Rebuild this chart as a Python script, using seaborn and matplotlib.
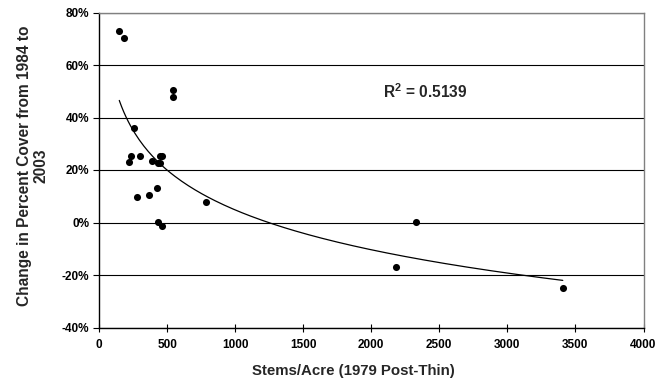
import numpy as np
import pandas as pd
import matplotlib
matplotlib.use("Agg")
import matplotlib.pyplot as plt
from matplotlib.ticker import FuncFormatter, MultipleLocator
import seaborn as sns

# Data
stems = [149, 185, 547, 547, 258, 237, 222, 298, 393, 430, 447, 447, 466,
         278, 368, 427, 785, 437, 466, 2326, 2184, 3407]
change = [72.9, 70.4, 50.5, 47.8, 35.9, 25.4, 22.9, 25.3, 23.4, 22.8, 22.8, 25.3, 25.3,
          9.6, 10.4, 13.1, 7.9, 0.3, -1.5, 0.3, -17.1, -25.1]
x_label = "Stems/Acre (1979 Post-Thin)"
y_label = "Change in Percent Cover from 1984 to\n2003"
r2_text = r"R$^{\mathbf{2}}$ = 0.5139"

sns.set_theme(style="white")
plt.rcParams["font.family"] = ["Liberation Sans", "DejaVu Sans"]
plt.rcParams["font.weight"] = "bold"
plt.rcParams["mathtext.fontset"] = "custom"
plt.rcParams["mathtext.bf"] = "Liberation Sans:bold"
plt.rcParams["mathtext.rm"] = "Liberation Sans:bold"

df = pd.DataFrame({"stems": stems, "change": change})

# logarithmic trend line fitted to the data
b, a = np.polyfit(np.log(df["stems"]), df["change"], 1)
xs = np.linspace(df["stems"].min(), df["stems"].max(), 200)
trend = pd.DataFrame({"stems": xs, "change": a + b * np.log(xs)})

fig = plt.figure(figsize=(6.56, 3.81), dpi=100)
ax = fig.add_axes([99 / 656, 1 - 327.5 / 381, 544.5 / 656, 315 / 381])

ax.yaxis.grid(True, color="black", linewidth=0.8)
ax.set_axisbelow(True)
sns.lineplot(data=trend, x="stems", y="change", ax=ax, color="black", linewidth=0.9, zorder=3)
sns.scatterplot(data=df, x="stems", y="change", ax=ax, color="black", s=26,
                edgecolor="black", linewidth=0, zorder=4)

ax.set_xlim(0, 4000)
ax.set_ylim(-40, 80)
ax.xaxis.set_major_locator(MultipleLocator(500))
ax.yaxis.set_major_locator(MultipleLocator(20))
ax.yaxis.set_major_formatter(FuncFormatter(lambda v, p: f"{v:.0f}%"))

for s in ["left", "bottom"]:
    ax.spines[s].set_color("black")
    ax.spines[s].set_linewidth(1.0)
for s in ["top", "right"]:
    ax.spines[s].set_color("#808080")
    ax.spines[s].set_linewidth(1.0)

ax.tick_params(axis="x", direction="inout", length=6, width=0.8, colors="black",
               labelsize=8.5, pad=5, bottom=True)
ax.tick_params(axis="y", direction="out", length=4, width=0.8, colors="black",
               labelsize=8.5, pad=3, left=True)
for lab in ax.get_xticklabels() + ax.get_yticklabels():
    lab.set_fontweight("bold")

ax.set_xlabel("")
ax.set_ylabel("")
fig.text(353 / 656, 1 - 370.5 / 381, x_label, ha="center", va="center",
         fontsize=10.8, fontweight="bold")
fig.text(33 / 656, 1 - 166 / 381, y_label, ha="center", va="center", rotation=90,
         multialignment="center", fontsize=11.2, fontweight="bold", linespacing=1.15)

ax.text((382.7 - 99) / 544.5, (327.5 - 91.7) / 315, r2_text, transform=ax.transAxes,
        ha="left", va="center", fontsize=11.2, fontweight="bold")

fig.savefig("out.png", dpi=100)
